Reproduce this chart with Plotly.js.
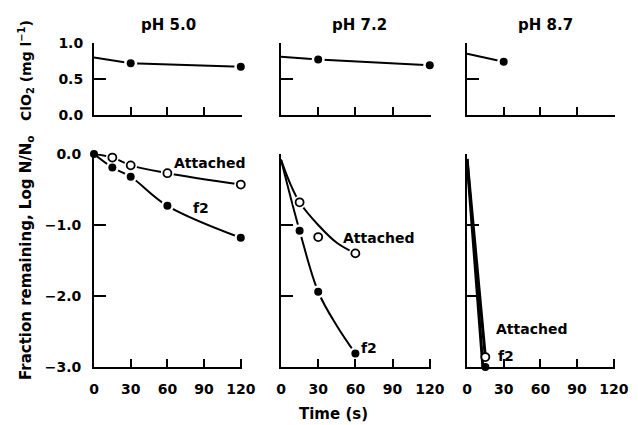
<!DOCTYPE html>
<html>
<head>
<meta charset="utf-8">
<script src="https://cdn.plot.ly/plotly-3.0.1.min.js"></script>
<style>html,body{margin:0;padding:0;background:#fff;}#chart{width:638px;height:425px;}</style>
</head>
<body>
<div id="chart"></div>
<script>
// ---------- Data ----------
var panelTitles = ["pH 5.0", "pH 7.2", "pH 8.7"];
var timeTicks = [0, 30, 60, 90, 120];
var timeTickText = ["0", "30", "60", "90", "120"];
var logTicks = [0, -1, -2, -3];
var logTickText = ["0.0", "\u22121.0", "\u22122.0", "\u22123.0"];
var clo2Ticks = [0, 0.5, 1.0];
var clo2TickText = ["0.0", "0.5", "1.0"];

// ClO2 residual (top panels); first point is the line start at t=0 (no marker)
var clo2Time50 = [0, 30, 120];
var clo2Val50 = [0.80, 0.72, 0.67];
var clo2Time72 = [0, 30, 120];
var clo2Val72 = [0.81, 0.77, 0.69];
var clo2Time87 = [0, 30];
var clo2Val87 = [0.85, 0.74];

// Initial point (t = 0) in each bottom panel
var startTime = [0];
var startVal50 = [0.0];
var startVal72 = [0.02];
var startVal87 = [0.02];

// pH 5.0
var attTime50 = [15, 30, 60, 120];
var attVal50 = [-0.05, -0.16, -0.27, -0.43];
var f2Time50 = [15, 30, 60, 120];
var f2Val50 = [-0.19, -0.32, -0.73, -1.18];

// pH 7.2
var attTime72 = [15, 30, 60];
var attVal72 = [-0.68, -1.17, -1.40];
var f2Time72 = [15, 30, 60];
var f2Val72 = [-1.08, -1.94, -2.81];
// fitted curves pH 7.2
var attFitTime72 = [0, 7, 15, 30, 45, 60];
var attFitVal72 = [-0.08, -0.40, -0.68, -1.00, -1.25, -1.40];
var f2FitTime72 = [0, 15, 30, 45, 60];
var f2FitVal72 = [-0.08, -1.08, -1.94, -2.42, -2.81];

// pH 8.7
var attTime87 = [15];
var attVal87 = [-2.86];
var f2Time87 = [15];
var f2Val87 = [-3.0];
var attFitTime87 = [0, 15];
var attFitVal87 = [-0.07, -2.86];
var f2FitTime87 = [0, 13];
var f2FitVal87 = [-0.07, -3.0];

// ---------- Traces ----------
var traces = [];
function line(x, y, xa, ya, w, shape) {
  traces.push({x: x, y: y, xaxis: xa, yaxis: ya, type: 'scatter', mode: 'lines',
    line: {color: '#000', width: w || 2, shape: shape || 'spline', smoothing: 1},
    hoverinfo: 'skip', showlegend: false, cliponaxis: false});
}
function halo(x, y, xa, ya) {
  traces.push({x: x, y: y, xaxis: xa, yaxis: ya, type: 'scatter', mode: 'markers',
    marker: {color: '#fff', size: 13}, hoverinfo: 'skip', showlegend: false, cliponaxis: false});
}
function filled(x, y, xa, ya) {
  traces.push({x: x, y: y, xaxis: xa, yaxis: ya, type: 'scatter', mode: 'markers',
    marker: {color: '#000', size: 8}, hoverinfo: 'skip', showlegend: false, cliponaxis: false});
}
function open(x, y, xa, ya) {
  traces.push({x: x, y: y, xaxis: xa, yaxis: ya, type: 'scatter', mode: 'markers',
    marker: {color: '#fff', size: 8, line: {color: '#000', width: 1.8}}, hoverinfo: 'skip', showlegend: false, cliponaxis: false});
}

// Top panels
line(clo2Time50, clo2Val50, 'x4', 'y4', 2, 'linear');
halo(clo2Time50.slice(1), clo2Val50.slice(1), 'x4', 'y4');
filled(clo2Time50.slice(1), clo2Val50.slice(1), 'x4', 'y4');
line(clo2Time72, clo2Val72, 'x5', 'y5', 2, 'linear');
halo(clo2Time72.slice(1), clo2Val72.slice(1), 'x5', 'y5');
filled(clo2Time72.slice(1), clo2Val72.slice(1), 'x5', 'y5');
line(clo2Time87, clo2Val87, 'x6', 'y6', 2, 'linear');
halo(clo2Time87.slice(1), clo2Val87.slice(1), 'x6', 'y6');
filled(clo2Time87.slice(1), clo2Val87.slice(1), 'x6', 'y6');

// pH 5.0 bottom
line(startTime.concat(attTime50), startVal50.concat(attVal50), 'x', 'y', 2);
line(startTime.concat(f2Time50), startVal50.concat(f2Val50), 'x', 'y', 2);
halo(attTime50, attVal50, 'x', 'y');
halo(f2Time50, f2Val50, 'x', 'y');
open(attTime50, attVal50, 'x', 'y');
filled(f2Time50, f2Val50, 'x', 'y');
filled(startTime, startVal50, 'x', 'y');

// pH 7.2 bottom
line(attFitTime72, attFitVal72, 'x2', 'y2', 2);
line(f2FitTime72, f2FitVal72, 'x2', 'y2', 2);
halo(f2Time72, f2Val72, 'x2', 'y2');
halo(attTime72, attVal72, 'x2', 'y2');
open(attTime72, attVal72, 'x2', 'y2');
filled(f2Time72, f2Val72, 'x2', 'y2');
filled(startTime, startVal72, 'x2', 'y2');

// pH 8.7 bottom
line(attFitTime87, attFitVal87, 'x3', 'y3', 3, 'linear');
line(f2FitTime87, f2FitVal87, 'x3', 'y3', 3, 'linear');
open(attTime87, attVal87, 'x3', 'y3');
filled(f2Time87, f2Val87, 'x3', 'y3');
filled(startTime, startVal87, 'x3', 'y3');

// ---------- Layout ----------
var W = 638, H = 425;
function dx(a, b) { return [a / W, b / W]; }
function dy(top, bottom) { return [1 - bottom / H, 1 - top / H]; }
var fam = 'DejaVu Sans';
var tickFont = {family: fam, size: 14, color: '#000', weight: 'bold'};

function xax(domain, anchor, bottom, ticks) {
  return {domain: domain, anchor: anchor, range: [0, 121], showline: true, linecolor: '#000', linewidth: 2,
    ticks: 'inside', ticklen: 8, tickwidth: 2, tickcolor: '#000', tickvals: ticks,
    ticktext: bottom ? timeTickText : undefined, showticklabels: bottom, tickfont: tickFont,
    showgrid: false, zeroline: false, fixedrange: true, ticklabelstandoff: 8};
}
function yax(domain, anchor, range, tv, tt, labels, standoff) {
  return {domain: domain, anchor: anchor, range: range, showline: true, linecolor: '#000', linewidth: 2,
    ticks: 'inside', ticklen: 12, tickwidth: 2, tickcolor: '#000', tickvals: tv, ticktext: tt,
    showticklabels: labels, tickfont: tickFont, showgrid: false, zeroline: false, fixedrange: true,
    ticklabelstandoff: standoff};
}
var xd1 = dx(94, 242), xd2 = dx(281, 431), xd3 = dx(467, 615);
var ydB = dy(154, 367), ydT = dy(43, 115);

var layout = {
  width: W, height: H, margin: {l: 0, r: 0, t: 0, b: 0},
  paper_bgcolor: '#fff', plot_bgcolor: 'rgba(0,0,0,0)', showlegend: false,
  xaxis: xax(xd1, 'y', true, timeTicks),
  xaxis2: xax(xd2, 'y2', true, timeTicks),
  xaxis3: xax(xd3, 'y3', true, timeTicks),
  xaxis4: xax(xd1, 'y4', false, [30, 60, 90]),
  xaxis5: xax(xd2, 'y5', false, [30, 60, 90]),
  xaxis6: xax(xd3, 'y6', false, [30, 60, 90]),
  yaxis: yax(ydB, 'x', [-3, 0], logTicks, logTickText, true, 8),
  yaxis2: yax(ydB, 'x2', [-3, 0], logTicks, logTickText, false, 8),
  yaxis3: yax(ydB, 'x3', [-3, 0], logTicks, logTickText, false, 8),
  yaxis4: yax(ydT, 'x4', [0, 1], clo2Ticks, clo2TickText, true, 6),
  yaxis5: yax(ydT, 'x5', [0, 1], clo2Ticks, clo2TickText, false, 6),
  yaxis6: yax(ydT, 'x6', [0, 1], clo2Ticks, clo2TickText, false, 6),
  annotations: []
};
function ann(text, x, y, opts) {
  var a = {text: text, x: x / W, y: 1 - y / H, xref: 'paper', yref: 'paper', showarrow: false,
    font: {family: fam, size: 14, color: '#000', weight: 'bold'}, xanchor: 'center', yanchor: 'middle'};
  for (var k in opts) a[k] = opts[k];
  layout.annotations.push(a);
}
var big = {family: fam, size: 15, color: '#000', weight: 'bold'};
ann(panelTitles[0], 168, 25, {font: big});
ann(panelTitles[1], 360, 25, {font: big});
ann(panelTitles[2], 545, 25, {font: big});
ann('Time (s)', 333, 414, {font: big});
ann('Fraction remaining, Log N/N<sub>o</sub>', 26, 258, {textangle: -90, font: {family: fam, size: 15, color: '#000', weight: 'bold'}});
ann('ClO<sub>2</sub> (mg l<sup>\u22121</sup>)', 26, 71, {textangle: -90, font: {family: fam, size: 14, color: '#000', weight: 'bold'}});
ann('Attached', 209, 163);
ann('f2', 201, 208);
ann('Attached', 378, 238);
ann('f2', 369, 348);
ann('Attached', 531, 329);
ann('f2', 506, 356);

Plotly.newPlot('chart', traces, layout, {displayModeBar: false, staticPlot: true});
</script>
</body>
</html>
